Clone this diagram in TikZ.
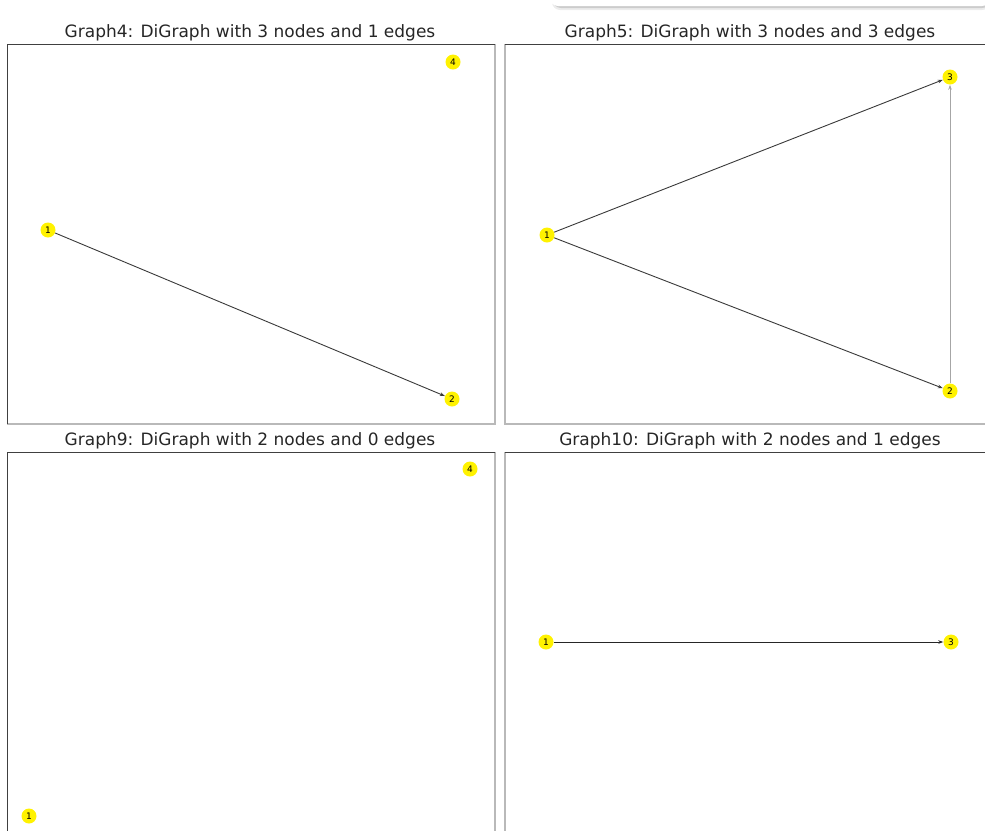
\documentclass[tikz,border=0pt]{standalone}
\usepackage{fontspec}
\setmainfont{DejaVu Sans}
\usetikzlibrary{positioning, arrows.meta}

\begin{document}
\begin{tikzpicture}[
  x=1pt, y=-1pt,
  vertex/.style={circle, fill=yellow, inner sep=0pt, minimum size=15pt, font=\fontsize{9}{10}\selectfont},
  edge/.style={-{Stealth[length=5pt, width=3.5pt]}, gray!45!black, line width=0.9pt},
  frametop/.style={black!75, line width=1pt},
  frameside/.style={gray!55, line width=1.5pt},
  title/.style={font=\fontsize{17}{20}\selectfont, text=black!85}
]
\useasboundingbox (0,0) rectangle (985,831);

% Legend shadow at top right
\fill[gray!15, rounded corners=8pt] (552,-16) rectangle (990,10);
\fill[gray!40, rounded corners=8pt] (553,-16) rectangle (990,8);
\fill[white, rounded corners=8pt] (550,-16) rectangle (990,6);

% ===== Graph4 =====
\node[title] (t4) at (250,33) {Graph4: DiGraph with 3 nodes and 1 edges};
\draw[frameside] (495,44) -- (495,424) -- (7,424);
\draw[frametop] (495,44) -- (7,44) -- (7,424);
\node[vertex] (a4) at (453,62) {4};
\node[vertex] (a1) at (48,230) {1};
\node[vertex] (a2) at (452,399) {2};
\draw[edge] (a1) -- (a2);

% ===== Graph5 =====
\node[title] (t5) at (750,33) {Graph5: DiGraph with 3 nodes and 3 edges};
\draw[frameside] (505,44) -- (505,424) -- (985,424);
\draw[frametop] (505,44) -- (985,44);
\node[vertex] (b3) at (950,77) {3};
\node[vertex] (b1) at (547,235) {1};
\node[vertex] (b2) at (950,391) {2};
\draw[edge] (b1) -- (b3);
\draw[edge] (b1) -- (b2);
\draw[edge, gray!70] (b2) -- (b3);

% ===== Graph9 =====
\node[title] (t9) at (250,441) {Graph9: DiGraph with 2 nodes and 0 edges};
\draw[frameside] (495,452) -- (495,831);
\draw[frametop] (495,452) -- (7,452) -- (7,831);
\node[vertex] (c4) at (470,469) {4};
\node[vertex] (c1) at (29,816) {1};

% ===== Graph10 =====
\node[title] (t10) at (750,441) {Graph10: DiGraph with 2 nodes and 1 edges};
\draw[frameside] (505,452) -- (505,831);
\draw[frametop] (505,452) -- (985,452);
\node[vertex] (d1) at (546,642) {1};
\node[vertex] (d3) at (951,642) {3};
\draw[edge, black!85] (d1) -- (d3);

\end{tikzpicture}
\end{document}
